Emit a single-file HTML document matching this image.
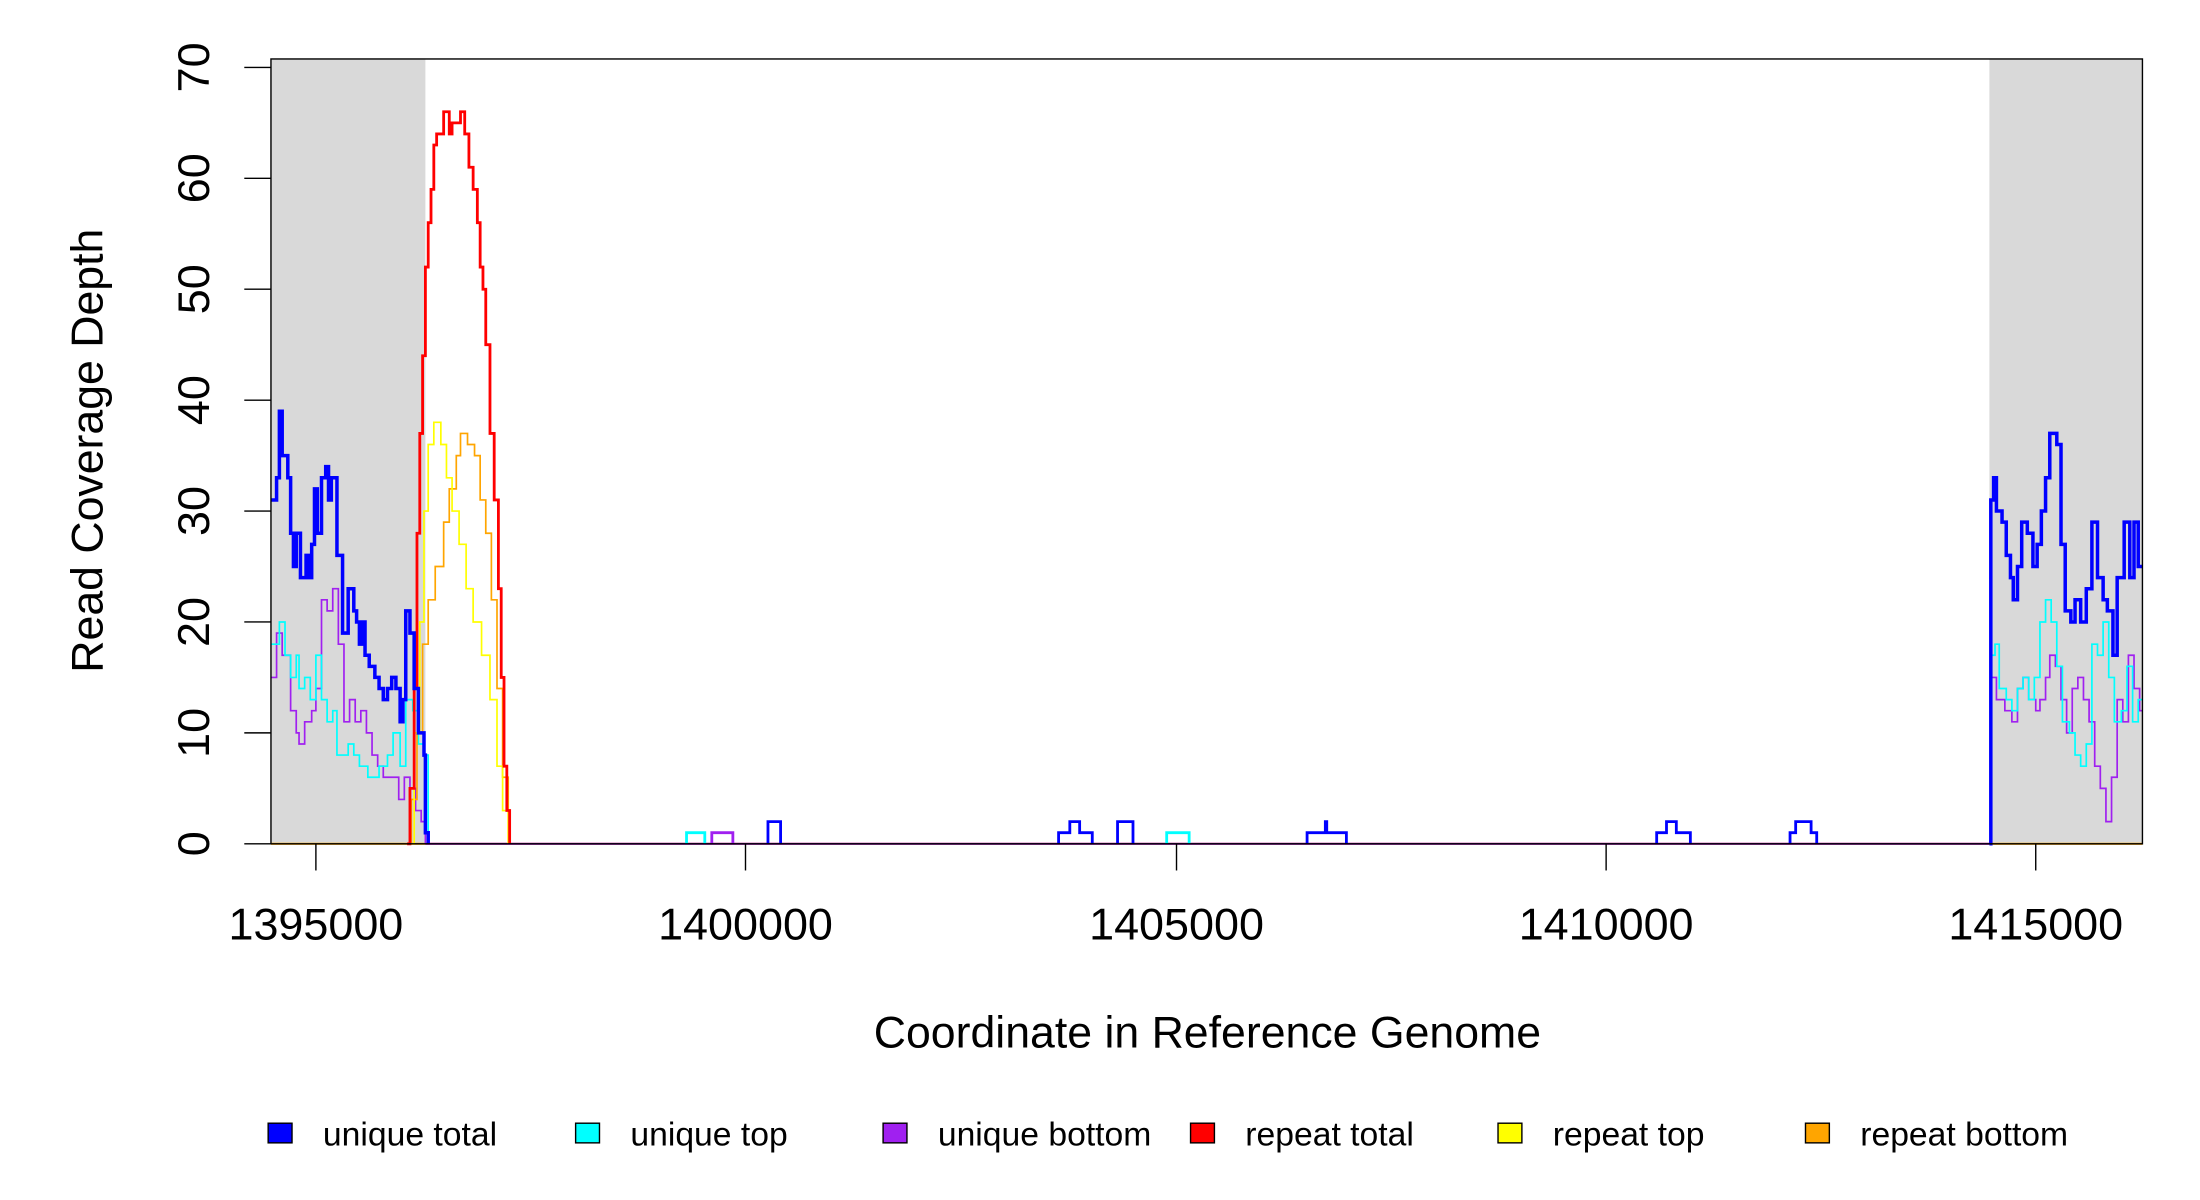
<!DOCTYPE html>
<html><head><meta charset="utf-8"><style>html,body{margin:0;padding:0;background:#fff}svg{display:block}</style></head>
<body>
<svg id="s" width="2200" height="1200" viewBox="0 0 1567 854.7" preserveAspectRatio="none" xmlns="http://www.w3.org/2000/svg" font-family="Liberation Sans, sans-serif">
<rect x="193" y="42" width="110" height="559" fill="#d9d9d9"/>
<rect x="1417" y="42" width="109" height="559" fill="#d9d9d9"/>
<g id="d"></g>
<rect x="193" y="42" width="1333" height="559" fill="none" stroke="#000" stroke-width="1"/>
<g stroke="#000" stroke-width="1">
<line x1="174" y1="601" x2="193" y2="601"/><line x1="174" y1="522" x2="193" y2="522"/><line x1="174" y1="443" x2="193" y2="443"/><line x1="174" y1="364" x2="193" y2="364"/><line x1="174" y1="285" x2="193" y2="285"/><line x1="174" y1="206" x2="193" y2="206"/><line x1="174" y1="127" x2="193" y2="127"/><line x1="174" y1="48" x2="193" y2="48"/>
<line x1="225" y1="601" x2="225" y2="620"/><line x1="531" y1="601" x2="531" y2="620"/><line x1="838" y1="601" x2="838" y2="620"/><line x1="1144" y1="601" x2="1144" y2="620"/><line x1="1450" y1="601" x2="1450" y2="620"/>
</g>
<g font-size="32" text-anchor="middle">
<text transform="translate(149,601) rotate(-90)">0</text>
<text transform="translate(149,522) rotate(-90)">10</text>
<text transform="translate(149,443) rotate(-90)">20</text>
<text transform="translate(149,364) rotate(-90)">30</text>
<text transform="translate(149,285) rotate(-90)">40</text>
<text transform="translate(149,206) rotate(-90)">50</text>
<text transform="translate(149,127) rotate(-90)">60</text>
<text transform="translate(149,48) rotate(-90)">70</text>
<text x="225" y="669">1395000</text><text x="531" y="669">1400000</text><text x="838" y="669">1405000</text><text x="1144" y="669">1410000</text><text x="1450" y="669">1415000</text>
<text x="860" y="746" font-size="31.8">Coordinate in Reference Genome</text>
<text transform="translate(73,321) rotate(-90)" font-size="31.8">Read Coverage Depth</text>
</g>
<g font-size="24" stroke="#000" stroke-width="1">
<rect x="191" y="800" width="17" height="14" fill="#0000ff"/><text x="230" y="816" stroke="none">unique total</text>
<rect x="410" y="800" width="17" height="14" fill="#00ffff"/><text x="449" y="816" stroke="none">unique top</text>
<rect x="629" y="800" width="17" height="14" fill="#a020f0"/><text x="668" y="816" stroke="none">unique bottom</text>
<rect x="848" y="800" width="17" height="14" fill="#ff0000"/><text x="887" y="816" stroke="none">repeat total</text>
<rect x="1067" y="800" width="17" height="14" fill="#ffff00"/><text x="1106" y="816" stroke="none">repeat top</text>
<rect x="1286" y="800" width="17" height="14" fill="#ffa500"/><text x="1325" y="816" stroke="none">repeat bottom</text>
</g>
</svg>
<script>
function Y(v){return 601-v*7.9;}
function step(pts){var d="M"+pts[0][0]+","+Y(pts[0][1]);for(var i=1;i<pts.length;i++){d+=" H"+pts[i][0]+" V"+Y(pts[i][1]);}return d;}
function P(a){var r=[];for(var i=0;i<a.length;i+=2)r.push([a[i],a[i+1]]);return r;}
var g=document.getElementById("d"),NS="http://www.w3.org/2000/svg";
function add(pts,c,w){var p=document.createElementNS(NS,"path");p.setAttribute("d",step(pts));p.setAttribute("fill","none");p.setAttribute("stroke",c);p.setAttribute("stroke-width",w);g.appendChild(p);}
add(P([193,0,1526,0]),"#ffa500",1.5);
add(P([303,0,1417,0]),"#a020f0",1.5);
add(P([489,0,489,1,502,0]),"#00ffff",2);
add(P([507,0,507,1,522,0]),"#a020f0",2);
add(P([547,0,547,2,556,0]),"#0000ff",2);
add(P([754,0,754,1,762,2,769,1,778,0]),"#0000ff",2);
add(P([796,0,796,2,807,0]),"#0000ff",2);
add(P([831,0,831,1,847,0]),"#00ffff",2);
add(P([931,0,931,1,944,2,945,1,959,0]),"#0000ff",2);
add(P([1180,0,1180,1,1187,2,1194,1,1204,0]),"#0000ff",2);
add(P([1275,0,1275,1,1279,2,1290,1,1294,0]),"#0000ff",2);
add(P([193,15,195,15,197,19,201,17,207,12,211,10,213,9,217,11,222,12,225,14,229,22,233,21,237,23,241,18,245,11,249,13,253,11,257,12,261,10,265,8,269,7,273,6,280,6,284,4,288,6,292,5,296,3,300,2,303,0]),"#a020f0",1.2);
add(P([193,18,195,18,199,20,203,17,207,15,211,17,213,14,217,15,221,13,225,17,229,13,233,11,237,12,240,8,248,9,252,8,256,7,262,6,270,7,276,8,280,10,285,7,289,13,294,12,298,9,302,8,305,0]),"#00ffff",1.2);
add(P([290,0,293,4,297,10,301,18,305,22,310,25,316,29,320,32,325,35,328,37,333,36,338,35,342,31,346,28,350,22,354,14,358,6,362,0]),"#ffa500",1.2);
add(P([291,0,295,10,299,20,302,30,305,36,309,38,314,36,318,33,322,30,327,27,332,23,337,20,343,17,349,13,354,7,358,3,362,0]),"#ffff00",1.2);
add(P([290,0,292,5,295,14,297,28,299,37,301,44,303,52,305,56,307,59,309,63,311,64,316,66,320,64,322,65,328,66,331,64,334,61,337,59,340,56,342,52,344,50,346,45,349,37,352,31,355,23,357,15,359,7,361,3,363,0]),"#ff0000",2);
add(P([193,31,195,31,197,33,199,39,201,35,205,33,207,28,209,25,211,28,214,24,218,26,220,24,222,27,224,32,226,28,229,33,232,34,234,31,236,33,240,26,244,19,248,23,252,21,254,20,256,18,258,20,260,17,263,16,267,15,270,14,273,13,276,14,279,15,282,14,285,11,287,13,289,21,292,19,295,14,298,10,302,8,303,1,305,0]),"#0000ff",2.5);
add(P([1417,0,1418,15,1422,13,1428,12,1433,11,1437,14,1441,15,1445,13,1450,12,1453,13,1457,15,1460,17,1464,16,1468,13,1472,10,1476,14,1480,15,1484,13,1488,11,1492,7,1496,5,1500,2,1504,6,1508,13,1512,11,1516,17,1520,14,1524,12,1526,12]),"#a020f0",1.2);
add(P([1417,0,1418,17,1421,18,1424,14,1429,13,1433,12,1437,14,1441,15,1445,13,1449,15,1453,20,1457,22,1461,20,1465,16,1469,11,1474,10,1478,8,1482,7,1486,9,1490,18,1494,17,1498,20,1502,15,1506,11,1511,12,1515,16,1519,11,1523,13,1526,13]),"#00ffff",1.2);
add(P([1417,0,1418,31,1420,33,1422,30,1426,29,1429,26,1432,24,1434,22,1437,25,1440,29,1444,28,1448,25,1451,27,1454,30,1457,33,1460,37,1465,36,1468,27,1471,21,1475,20,1478,22,1482,20,1486,23,1490,29,1494,24,1498,22,1501,21,1505,17,1508,24,1513,29,1517,24,1520,29,1523,25,1526,25]),"#0000ff",2.5);
</script>
</body></html>
